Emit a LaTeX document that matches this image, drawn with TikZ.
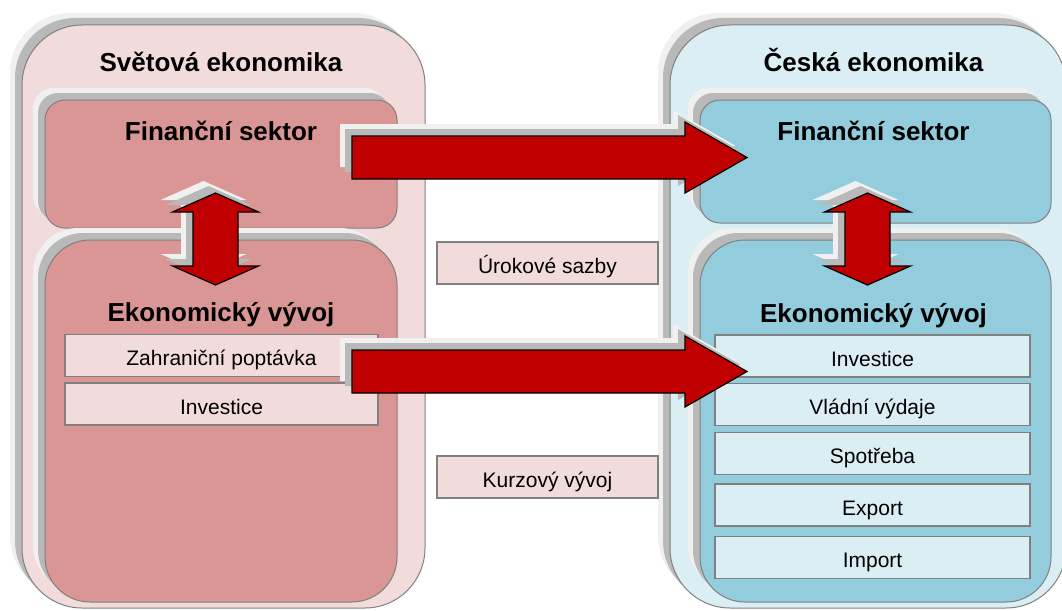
\documentclass[tikz,border=0pt]{standalone}
\usepackage{fontspec}
\setmainfont{Liberation Sans}
\usetikzlibrary{calc,shadows}

\definecolor{worldout}{HTML}{F2DCDB}
\definecolor{worldin}{HTML}{D99694}
\definecolor{czout}{HTML}{DBEEF4}
\definecolor{czin}{HTML}{93CDDD}
\definecolor{arrowred}{HTML}{C00000}
\definecolor{edge}{HTML}{808080}

% horizontal block arrow: tail centre #1, tip #2
\newcommand\flowarrow[2]{%
  \filldraw[bigarrow] let \p1=(#1), \p2=(#2) in
    (\x1,\y1+21.5pt) -- (\x2-62pt,\y1+21.5pt) -- (\x2-62pt,\y1+35.5pt) --
    (\x2,\y2) -- (\x2-62pt,\y1-35.5pt) -- (\x2-62pt,\y1-21.5pt) --
    (\x1,\y1-21.5pt) -- cycle;}
% vertical two-headed block arrow: upper tip #1, lower tip #2
\newcommand\linkarrow[2]{%
  \filldraw[bigarrow] let \p1=(#1), \p2=(#2) in
    (\x1,\y1) -- (\x1+43pt,\y1-19pt) -- (\x1+22.5pt,\y1-19pt) --
    (\x1+22.5pt,\y2+19pt) -- (\x1+43pt,\y2+19pt) -- (\x1,\y2) --
    (\x1-43pt,\y2+19pt) -- (\x1-22.5pt,\y2+19pt) -- (\x1-22.5pt,\y1-19pt) --
    (\x1-43pt,\y1-19pt) -- cycle;}

\begin{document}
\begin{tikzpicture}[x=1pt,y=-1pt,
  boxshadow/.style={
    general shadow={fill=gray!12, shadow xshift=-12pt, shadow yshift=12pt},
    general shadow={fill=gray!55, shadow xshift=-7pt, shadow yshift=7pt}},
  panel/.style={draw=edge, line width=1pt, inner sep=0pt, boxshadow},
  item/.style={draw=edge, line width=1.2pt, inner sep=0pt,
    text height=31pt, text depth=11pt, font=\fontsize{21}{25}\selectfont},
  heading/.style={anchor=base, inner sep=0pt,
    font=\bfseries\fontsize{26}{30}\selectfont},
  bigarrow/.style={fill=arrowred, draw=black, line width=1.2pt,
    line join=miter, boxshadow}]

\useasboundingbox (0,0) rectangle (1062,610);
\clip (0,0) rectangle (1062,610);

% world economy
\node[panel, fill=worldout, rounded corners=60pt,
      minimum width=403pt, minimum height=583pt] (world) at (223.5,316.5) {};
\node[panel, fill=worldin, rounded corners=20pt,
      minimum width=352pt, minimum height=128pt] (wfin) at (221,164) {};
\node[panel, fill=worldin, rounded corners=45pt,
      minimum width=352pt, minimum height=362pt] (weko) at (221,421) {};

\node[heading] (worldt) at ($(wfin.north)+(0,-28)$) {Světová ekonomika};
\node[heading] (wfint) at ($(wfin.north)+(0,41)$) {Finanční sektor};
\node[heading] (wekot) at ($(weko.north)+(0,82)$) {Ekonomický vývoj};

\node[item, fill=worldout, minimum width=313pt] (wdemand) at (221.5,355.5) {Zahraniční poptávka};
\node[item, fill=worldout, minimum width=313pt] (winvest) at (221.5,404) {Investice};

% Czech economy
\node[panel, fill=czout, rounded corners=60pt,
      minimum width=396pt, minimum height=583pt] (cz) at (868,316.5) {};
\node[panel, fill=czin, rounded corners=20pt,
      minimum width=351pt, minimum height=123pt] (cfin) at (875.5,161.5) {};
\node[panel, fill=czin, rounded corners=45pt,
      minimum width=351pt, minimum height=362pt] (ceko) at (875.5,421) {};

\node[heading] (czt) at ($(cfin.north)+(-2,-28)$) {Česká ekonomika};
\node[heading] (cfint) at ($(cfin.north)+(-2,41)$) {Finanční sektor};
\node[heading] (cekot) at ($(ceko.north)+(-2,83)$) {Ekonomický vývoj};

\node[item, fill=czout, minimum width=315pt] (cinvest) at (872.5,356) {Investice};
\node[item, fill=czout, minimum width=315pt] (cgov) at (872.5,404.5) {Vládní výdaje};
\node[item, fill=czout, minimum width=315pt] (ccons) at (872.5,453.5) {Spotřeba};
\node[item, fill=czout, minimum width=315pt] (cexp) at (872.5,505) {Export};
\node[item, fill=czout, minimum width=315pt] (cimp) at (872.5,557.5) {Import};

% transmission channels
\node[item, fill=worldout, minimum width=221pt] (rates) at (547.5,263) {Úrokové sazby};
\node[item, fill=worldout, minimum width=221pt] (fx) at (547.5,477) {Kurzový vývoj};

% arrows
\coordinate (finfrom) at (352,157.5);
\coordinate (finto) at (747,157.5);
\coordinate (ekofrom) at (352,371.5);
\coordinate (ekoto) at (747,371.5);
\coordinate (wup) at (215.5,193);
\coordinate (wdown) at (215.5,285);
\coordinate (cup) at (867.5,193);
\coordinate (cdown) at (867.5,285);

\flowarrow{finfrom}{finto}
\flowarrow{ekofrom}{ekoto}
\linkarrow{wup}{wdown}
\linkarrow{cup}{cdown}

\end{tikzpicture}
\end{document}
